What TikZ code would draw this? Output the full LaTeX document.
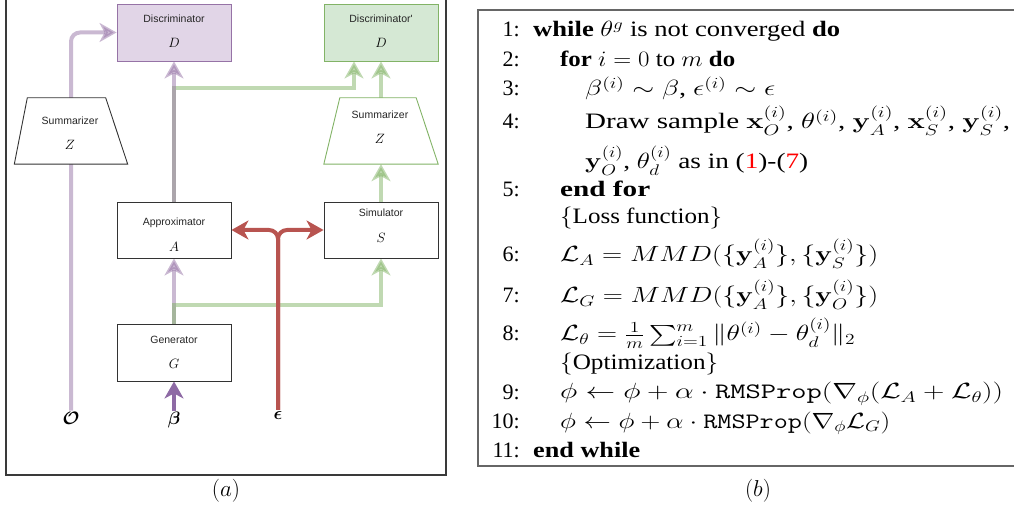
\RequirePackage{fix-cm}
\documentclass[tikz,border=0pt]{standalone}
\usepackage{amsmath,bm,graphicx}
\usepackage[no-math]{fontspec}
\setmainfont{Liberation Serif}
\newfontfamily\diagfont{Liberation Sans}
\usetikzlibrary{arrows.meta,calc}

\definecolor{pfill}{HTML}{E1D5E7}
\definecolor{pline}{HTML}{9673A6}
\definecolor{pdark}{HTML}{8E6AA5}
\definecolor{gfill}{HTML}{D5E8D4}
\definecolor{gline}{HTML}{82B366}
\definecolor{rline}{HTML}{B85450}
\definecolor{framea}{HTML}{3A3A3A}
\definecolor{frameb}{HTML}{666666}

\pgfdeclarelayer{wires}
\pgfsetlayers{wires,main}

% one algorithm line, set at 22pt and widened to a given width
\newcommand\algline[2]{\resizebox{#1pt}{\height}{#2}}

\begin{document}
\begin{tikzpicture}[x=1pt,y=-1pt,
  blk/.style={draw=black!80, line width=0.9pt, fill=white, minimum width=114pt,
    minimum height=57pt, inner sep=0pt},
  pblk/.style={blk, draw=pline, fill=pfill},
  gblk/.style={blk, draw=gline, fill=gfill},
  trapspace/.style={minimum width=113pt, minimum height=66pt, inner sep=0pt},
  trapline/.style={draw=black!80, line width=0.9pt, fill=white, line join=miter},
  lbl/.style={font=\diagfont\fontsize{10.5}{12}\selectfont, text=black!85, inner sep=0pt},
  symb/.style={font=\fontsize{13.5}{15}\selectfont, inner sep=0pt},
  invar/.style={font=\fontsize{18}{20}\selectfont, inner sep=1pt},
  wire/.style={line width=4pt, -{Stealth[length=17pt,width=19pt,inset=5pt]}},
  pwire/.style={wire, draw=pline, opacity=0.5},
  gwire/.style={wire, draw=gline, opacity=0.5},
  bwire/.style={wire, draw=pdark},
  rwire/.style={wire, draw=rline, rounded corners=9pt},
  alg/.style={anchor=base west, inner sep=0pt, font=\fontsize{22}{26}\selectfont},
  num/.style={anchor=base east, inner sep=0pt, font=\fontsize{22}{26}\selectfont},
]
\useasboundingbox (0,0) rectangle (1014,510);

% ---------- panel (a): architecture ----------
\draw[framea, line width=1.3pt] (6,-2) -- (6,475) -- (446,475) -- (446,-2);

\node[pblk] (D)  at (174,32.5) {};
\node[gblk] (D2) at (381,32.5) {};
\node[trapspace] (Zl) at (71,131) {};
\node[trapspace, minimum width=114pt] (Zr) at (381,131) {};
\draw[trapline] (Zl.south west) -- ($(Zl.north west)+(13,0)$)
  -- ($(Zl.north east)+(-22,0)$) -- (Zl.south east) -- cycle;
\draw[trapline, draw=gline] (Zr.south west) -- ($(Zr.north west)+(16,0)$)
  -- ($(Zr.north east)+(-22,0)$) -- (Zr.south east) -- cycle;
\node[blk, minimum height=56pt] (A) at (174,230) {};
\node[blk, minimum height=56pt] (S) at (381,230) {};
\node[blk] (G) at (174,352.5) {};

\node[lbl]  (Dn)  at (174,19) {Discriminator};
\node[symb] (Ds)  at (174,43) {$D$};
\node[lbl]  (D2n) at (381,19) {Discriminator'};
\node[symb] (D2s) at (381,43) {$D$};
\node[lbl]  (Zln) at (70,121) {Summarizer};
\node[symb] (Zls) at (70,145) {$Z$};
\node[lbl]  (Zrn) at (380,115) {Summarizer};
\node[symb] (Zrs) at (380,139) {$Z$};
\node[lbl]  (An)  at (174,223) {Approximator};
\node[symb] (As)  at (174,247) {$A$};
\node[lbl]  (Sn)  at (381,213) {Simulator};
\node[symb] (Ss)  at (381,238) {$S$};
\node[lbl]  (Gn)  at (174,340) {Generator};
\node[symb] (Gs)  at (174,364) {$G$};

\node[invar] (O)   at (71,418)  {$\bm{\mathcal{O}}$};
\node[invar] (bet) at (174,420) {$\bm{\beta}$};
\node[invar] (eps) at (278,415) {$\bm{\epsilon}$};

\coordinate (ad) at (354,88);
\coordinate (gs) at (381,305);

\begin{pgfonlayer}{wires}
  \draw[pwire, rounded corners=9pt] (O.north) |- (D.west);
  \draw[gwire] (A.north) |- (ad) -- (ad |- D2.south);
  \draw[pwire] (A.north) -- (D.south);
  \draw[gwire] (Zr.north) -- (D2.south);
  \draw[gwire] (S.north) -- (Zr.south);
  \draw[pwire] (G.north) -- (A.south);
  \draw[gwire] (G.north) |- (gs) -- (S.south);
  \draw[bwire] (bet.north) -- (G.south);
  \draw[rwire] (eps.north) |- (A.east);
  \draw[rwire] (eps.north) |- (S.west);
\end{pgfonlayer}

\node[font=\fontsize{23}{28}\selectfont, inner sep=0pt] (capa) at (226,491) {$(a)$};

% ---------- panel (b): training algorithm ----------
\draw[frameb, line width=1.3pt] (1016,10) -- (478,10) -- (478,466) -- (1016,466);

\node[num] (n1)  at (520,37)  {1:};
\node[alg] (l1)  at (533,37)  {\algline{307}{\textbf{while} $\theta^g$ is not converged \textbf{do}}};
\node[num] (n2)  at (520,67)  {2:};
\node[alg] (l2)  at (560,67)  {\algline{175}{\textbf{for} $i = 0$ to $m$ \textbf{do}}};
\node[num] (n3)  at (520,96)  {3:};
\node[alg] (l3)  at (585,96)  {\algline{190}{$\beta^{(i)} \sim \beta$, $\epsilon^{(i)} \sim \epsilon$}};
\node[num] (n4)  at (520,129) {4:};
\node[alg] (l4)  at (585,129) {\algline{425}{Draw sample $\mathbf{x}_O^{(i)}$, $\theta^{(i)}$, $\mathbf{y}_A^{(i)}$, $\mathbf{x}_S^{(i)}$, $\mathbf{y}_S^{(i)}$,}};
\node[alg] (l4b) at (585,169) {\algline{223}{$\mathbf{y}_O^{(i)}$, $\theta_d^{(i)}$ as in (\textcolor{red}{1})-(\textcolor{red}{7})}};
\node[num] (n5)  at (520,197) {5:};
\node[alg] (l5)  at (560,197) {\algline{90}{\textbf{end for}}};
\node[alg] (c1)  at (560,224) {\algline{162}{$\{$Loss function$\}$}};
\node[num] (n6)  at (520,262) {6:};
\node[alg] (l6)  at (560,262) {\algline{318}{$\mathcal{L}_A = MMD(\{\mathbf{y}_A^{(i)}\}, \{\mathbf{y}_S^{(i)}\})$}};
\node[num] (n7)  at (520,303) {7:};
\node[alg] (l7)  at (560,303) {\algline{318}{$\mathcal{L}_G = MMD(\{\mathbf{y}_A^{(i)}\}, \{\mathbf{y}_O^{(i)}\})$}};
\node[num] (n8)  at (520,341) {8:};
\node[alg] (l8)  at (560,341) {\algline{295}{$\mathcal{L}_\theta = \frac{1}{m}\sum_{i=1}^{m} \|\theta^{(i)} - \theta_d^{(i)}\|_2$}};
\node[alg] (c2)  at (560,369) {\algline{158}{$\{$Optimization$\}$}};
\node[num] (n9)  at (520,399) {9:};
\node[alg] (l9)  at (560,399) {\algline{443}{$\phi \leftarrow \phi + \alpha \cdot \texttt{RMSProp}(\nabla_\phi(\mathcal{L}_A + \mathcal{L}_\theta))$}};
\node[num] (n10) at (520,428) {10:};
\node[alg] (l10) at (560,428) {\algline{330}{$\phi \leftarrow \phi + \alpha \cdot \texttt{RMSProp}(\nabla_\phi \mathcal{L}_G)$}};
\node[num] (n11) at (520,457) {11:};
\node[alg] (l11) at (533,457) {\algline{107}{\textbf{end while}}};

\node[font=\fontsize{23}{28}\selectfont, inner sep=0pt] (capb) at (758,491) {$(b)$};
\end{tikzpicture}
\end{document}
